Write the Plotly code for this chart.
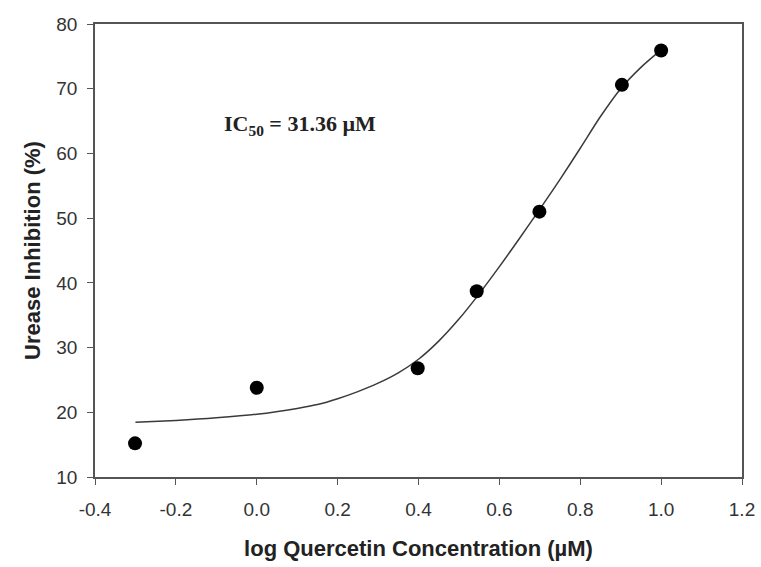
import plotly.graph_objects as go

# Observed data
log_conc = [-0.301, 0.0, 0.398, 0.544, 0.699, 0.903, 1.0]
inhibition = [15.2, 23.8, 26.8, 38.7, 51.0, 70.6, 75.9]

# Fitted curve
fit_x = [-0.3, -0.2, -0.1, 0.0, 0.1, 0.15, 0.2, 0.25, 0.3, 0.35, 0.4, 0.45, 0.5, 0.55, 0.6, 0.65, 0.7, 0.75, 0.8, 0.85, 0.9, 0.95, 1.0]
fit_y = [18.45, 18.75, 19.15, 19.7, 20.6, 21.2, 22.1, 23.2, 24.5, 26.1, 28.2, 31.0, 34.4, 38.3, 42.5, 46.9, 51.4, 56.0, 60.8, 65.7, 70.0, 73.3, 76.0]

x_tickvals = [-0.4, -0.2, 0.0, 0.2, 0.4, 0.6, 0.8, 1.0, 1.2]
x_ticktext = ["-0.4", "-0.2", "0.0", "0.2", "0.4", "0.6", "0.8", "1.0", "1.2"]
y_tickvals = [10, 20, 30, 40, 50, 60, 70, 80]

fig = go.Figure()
fig.add_trace(go.Scatter(
    x=fit_x, y=fit_y, mode="lines",
    line=dict(color="#3a3a3a", width=1.5, shape="spline", smoothing=0.8),
    hoverinfo="skip", showlegend=False))
fig.add_trace(go.Scatter(
    x=log_conc, y=inhibition, mode="markers",
    marker=dict(color="black", size=14),
    showlegend=False))

axis_common = dict(
    showgrid=False, zeroline=False, showline=True, linecolor="#555555", linewidth=1.5,
    mirror=True, ticks="outside", ticklen=6, tickwidth=1.2, tickcolor="#555555",
    tickfont=dict(family="Liberation Sans, Arial", size=19, color="#333333"),
    automargin=False,
)

fig.update_layout(
    width=761, height=567,
    margin=dict(l=95, r=19, t=24, b=90),
    plot_bgcolor="white", paper_bgcolor="white",
    xaxis=dict(range=[-0.4, 1.2], tickvals=x_tickvals, ticktext=x_ticktext,
               ticklabelstandoff=8,
               title=dict(text="<b>log Quercetin Concentration (µM)</b>",
                          font=dict(family="Liberation Sans, Arial", size=22, color="#222222"),
                          standoff=22),
               **axis_common),
    yaxis=dict(range=[10, 80], tickvals=y_tickvals, ticklabelstandoff=6,
               title=dict(text="<b>Urease Inhibition (%)</b>",
                          font=dict(family="Liberation Sans, Arial", size=22, color="#222222"),
                          standoff=10),
               **axis_common),
    annotations=[dict(
        x=0.106, y=64.4, xref="x", yref="y",
        text="<b>IC<sub>50</sub> = 31.36 µM</b>",
        showarrow=False,
        font=dict(family="Liberation Serif, Times New Roman", size=22, color="#222222"),
    )],
)

fig.write_html("out.html", config={"displayModeBar": False},
               post_script="document.body.style.margin='0';document.body.style.overflow='hidden';")
